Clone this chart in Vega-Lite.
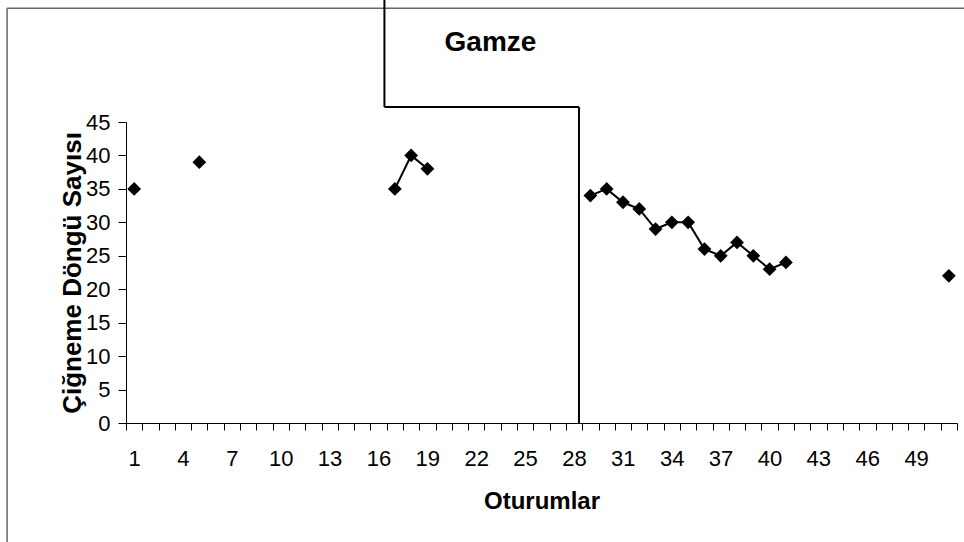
{
  "$schema": "https://vega.github.io/schema/vega-lite/v6.json",
  "width": 831,
  "height": 301,
  "autosize": "none",
  "padding": {"left": 126, "top": 122, "right": 7, "bottom": 119},
  "background": "white",
  "config": {"view": {"stroke": null}, "font": "Liberation Sans"},
  "title": {"text": "Gamze", "fontSize": 28, "fontWeight": "bold", "anchor": "middle", "dx": -51, "offset": -60, "color": "black", "font": "Liberation Sans"},
  "layer": [
    {
      "data": {"values": [
        {"fx": -6.8, "fx2": -6.8, "fy": -18, "fy2": 62.0},
        {"fx": -6.8, "fx2": 52, "fy": 62.0, "fy2": 62.0}
      ]},
      "mark": {"type": "rule", "color": "#666666", "strokeWidth": 1.5, "clip": false},
      "encoding": {
        "x": {"field": "fx", "type": "quantitative"},
        "x2": {"field": "fx2"},
        "y": {"field": "fy", "type": "quantitative"},
        "y2": {"field": "fy2"}
      }
    },
    {
      "data": {"values": [
        {"x1": 28.3, "x2": 28.3, "y1": 0, "y2": 47.24},
        {"x1": 16.36, "x2": 28.3, "y1": 47.24, "y2": 47.24},
        {"x1": 16.36, "x2": 16.36, "y1": 47.24, "y2": 63.5}
      ]},
      "mark": {"type": "rule", "color": "black", "strokeWidth": 2, "clip": false},
      "encoding": {
        "x": {"field": "x1", "type": "quantitative"},
        "x2": {"field": "x2"},
        "y": {"field": "y1", "type": "quantitative"},
        "y2": {"field": "y2"}
      }
    },
    {
      "data": {"name": "pts", "values": [
        {"session": 1, "count": 35, "seg": "a"},
        {"session": 5, "count": 39, "seg": "b"},
        {"session": 17, "count": 35, "seg": "c"},
        {"session": 18, "count": 40, "seg": "c"},
        {"session": 19, "count": 38, "seg": "c"},
        {"session": 29, "count": 34, "seg": "d"},
        {"session": 30, "count": 35, "seg": "d"},
        {"session": 31, "count": 33, "seg": "d"},
        {"session": 32, "count": 32, "seg": "d"},
        {"session": 33, "count": 29, "seg": "d"},
        {"session": 34, "count": 30, "seg": "d"},
        {"session": 35, "count": 30, "seg": "d"},
        {"session": 36, "count": 26, "seg": "d"},
        {"session": 37, "count": 25, "seg": "d"},
        {"session": 38, "count": 27, "seg": "d"},
        {"session": 39, "count": 25, "seg": "d"},
        {"session": 40, "count": 23, "seg": "d"},
        {"session": 41, "count": 24, "seg": "d"},
        {"session": 51, "count": 22, "seg": "e"}
      ]},
      "layer": [
        {
          "mark": {"type": "line", "color": "black", "strokeWidth": 2},
          "encoding": {
            "x": {"field": "session", "type": "quantitative"},
            "y": {"field": "count", "type": "quantitative"},
            "detail": {"field": "seg"}
          }
        },
        {
          "mark": {"type": "point", "shape": "diamond", "filled": true, "color": "black", "opacity": 1, "size": 190},
          "encoding": {
            "x": {"field": "session", "type": "quantitative"},
            "y": {"field": "count", "type": "quantitative"}
          }
        }
      ]
    }
  ],
  "encoding": {
    "x": {
      "type": "quantitative",
      "scale": {"domain": [0.5, 51.5], "nice": false, "zero": false},
      "axis": {
        "title": "Oturumlar",
        "titleFontSize": 24,
        "titleFontWeight": "bold",
        "titleColor": "black",
        "titlePadding": 20,
        "values": [0.5,1.5,2.5,3.5,4.5,5.5,6.5,7.5,8.5,9.5,10.5,11.5,12.5,13.5,14.5,15.5,16.5,17.5,18.5,19.5,20.5,21.5,22.5,23.5,24.5,25.5,26.5,27.5,28.5,29.5,30.5,31.5,32.5,33.5,34.5,35.5,36.5,37.5,38.5,39.5,40.5,41.5,42.5,43.5,44.5,45.5,46.5,47.5,48.5,49.5,50.5,51.5],
        "labelExpr": "((datum.value - 0.5) % 3 == 0 && datum.value < 51) ? '' + (datum.value + 0.5) : ''",
        "labelOffset": 8,
        "labelOverlap": false,
        "labelBound": false,
        "labelFlush": false,
        "labelFontSize": 22,
        "labelColor": "black",
        "labelPadding": 18,
        "tickSize": 7,
        "tickColor": "black",
        "domainColor": "black",
        "grid": false
      }
    },
    "y": {
      "type": "quantitative",
      "scale": {"domain": [0, 45], "nice": false, "zero": true},
      "axis": {
        "title": "Çiğneme Döngü Sayısı",
        "titleFontSize": 26,
        "titleFontWeight": "bold",
        "titleColor": "black",
        "titlePadding": 0,
        "values": [0,5,10,15,20,25,30,35,40,45],
        "labelFontSize": 22,
        "labelColor": "black",
        "labelPadding": 8,
        "tickSize": 8,
        "tickColor": "black",
        "domainColor": "black",
        "grid": false
      }
    }
  }
}
